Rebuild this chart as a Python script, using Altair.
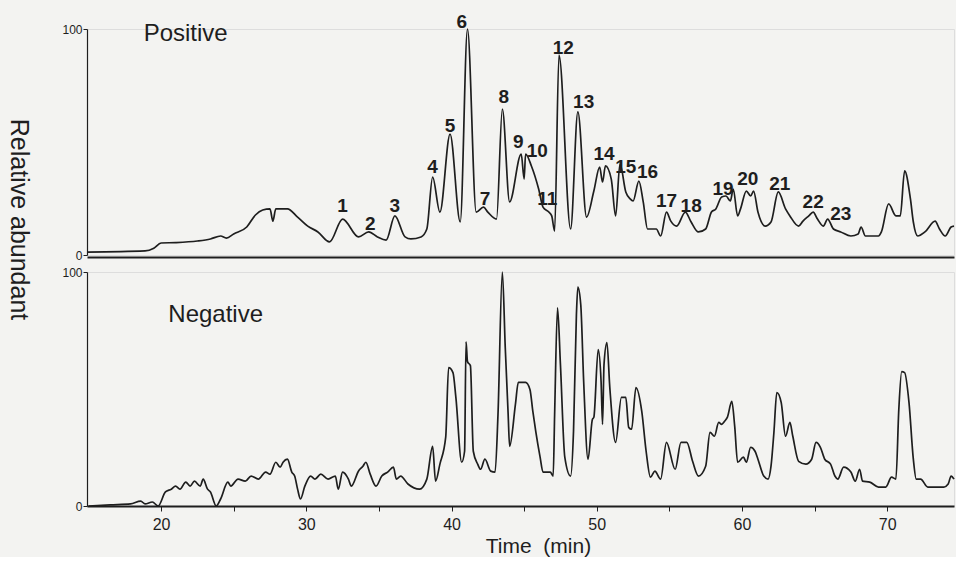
import altair as alt
import pandas as pd

# ---------------- data ----------------
pos_time = [14.9, 18.9, 19.5, 20.0, 21.0, 22.5, 23.4, 24.1, 24.5, 25.0, 25.9, 26.5, 27.0, 27.5, 27.7,
            27.9, 28.7, 29.4, 30.1, 30.8, 31.6, 32.5, 33.6, 34.3, 34.9, 35.5, 36.1, 36.8, 37.2, 37.9,
            38.3, 38.7, 39.2, 39.9, 40.6, 41.1, 41.7, 42.2, 42.5, 43.1, 43.5, 44.0, 44.8, 45.0, 45.1,
            45.5, 46.0, 46.3, 46.7, 46.9, 47.1, 47.4, 48.2, 48.7, 49.3, 49.8, 50.2, 50.4, 50.6, 51.0,
            51.3, 51.6, 52.0, 52.3, 52.5, 52.9, 53.2, 53.5, 54.1, 54.4, 54.8, 55.1, 55.5, 56.1, 56.5,
            57.0, 57.5, 57.9, 58.2, 58.6, 58.9, 59.2, 59.4, 59.7, 59.9, 60.3, 60.6, 60.8, 61.1, 61.6,
            62.0, 62.5, 63.0, 63.3, 63.9, 64.2, 64.6, 64.9, 65.2, 65.6, 65.9, 66.3, 66.8, 67.5, 68.0,
            68.2, 68.5, 69.4, 69.6, 70.1, 70.6, 70.9, 71.2, 71.6, 71.8, 72.1, 72.6, 73.3, 73.6, 74.0,
            74.4, 74.6]
pos_abund = [1.3, 1.8, 3.0, 5.3, 5.5, 6.2, 7.1, 8.4, 7.5, 9.3, 12.4, 17.7, 19.9, 20.4, 15.0,
             20.4, 20.4, 16.8, 12.8, 10.2, 5.8, 15.9, 8.0, 10.2, 8.0, 6.6, 17.3, 8.0, 7.1, 8.0,
             11.5, 34.5, 19.0, 53.5, 14.6, 100.0, 19.0, 21.2, 19.0, 15.9, 64.6, 23.5, 44.7, 33.6, 44.7,
             39.4, 29.2, 21.2, 19.0, 17.3, 10.6, 88.5, 11.5, 63.3, 16.8, 28.3, 38.9, 32.3, 39.4, 33.6,
             17.3, 40.3, 27.9, 24.8, 23.9, 32.7, 23.5, 11.5, 11.5, 8.4, 19.0, 15.0, 12.8, 19.0, 14.6,
             10.2, 11.5, 19.0, 20.4, 25.7, 26.1, 23.9, 29.2, 17.3, 20.4, 28.3, 26.1, 28.3, 19.0, 12.8,
             14.6, 27.9, 20.4, 17.3, 12.8, 15.0, 17.3, 19.0, 15.9, 12.8, 15.9, 11.5, 10.2, 8.4, 9.3,
             12.4, 8.4, 8.4, 10.2, 22.6, 17.3, 17.3, 37.2, 24.8, 14.6, 8.4, 10.2, 15.0, 11.5, 8.4,
             12.4, 12.8]

neg_time = [15.0, 16.5, 17.9, 18.6, 18.9, 19.4, 19.8, 20.3, 20.7, 21.0, 21.3, 21.7, 22.0, 22.3, 22.7,
            22.9, 23.2, 23.4, 23.8, 24.1, 24.6, 24.8, 25.3, 25.8, 26.2, 26.7, 27.2, 27.5, 27.9, 28.2,
            28.4, 28.7, 29.0, 29.2, 29.4, 29.6, 29.9, 30.3, 30.6, 31.0, 31.5, 32.0, 32.2, 32.5, 32.9,
            33.1, 33.6, 33.9, 34.1, 34.4, 34.8, 35.2, 35.6, 36.0, 36.2, 36.5, 37.0, 37.8, 38.3, 38.7,
            38.9, 39.2, 39.6, 39.8, 40.1, 40.3, 40.7, 40.9, 41.0, 41.1, 41.3, 41.5, 41.8, 42.0, 42.3,
            42.7, 43.0, 43.2, 43.5, 43.7, 43.9, 44.0, 44.4, 44.6, 45.1, 45.4, 45.6, 45.8, 46.1, 46.3,
            46.8, 47.0, 47.1, 47.3, 47.5, 47.8, 48.2, 48.4, 48.6, 48.7, 48.9, 49.1, 49.4, 49.7, 49.8,
            50.1, 50.3, 50.4, 50.5, 50.7, 50.9, 51.3, 51.7, 52.0, 52.2, 52.4, 52.7, 53.1, 53.4, 53.7,
            54.0, 54.4, 54.8, 55.4, 55.8, 56.2, 56.6, 57.0, 57.5, 57.8, 58.1, 58.4, 58.6, 58.8, 59.0,
            59.3, 59.5, 59.7, 60.1, 60.3, 60.6, 60.9, 61.1, 61.5, 61.8, 62.0, 62.2, 62.4, 62.7, 63.0,
            63.3, 63.5, 63.9, 64.4, 64.8, 65.1, 65.4, 65.7, 66.1, 66.4, 66.6, 67.0, 67.5, 67.8, 68.1,
            68.3, 68.8, 69.4, 69.9, 70.3, 70.6, 70.8, 71.0, 71.2, 71.5, 71.8, 72.0, 72.3, 72.8, 73.4,
            73.9, 74.2, 74.4, 74.6]
neg_abund = [0.0, 0.5, 0.9, 2.1, 0.9, 1.7, 0.0, 6.0, 7.2, 8.5, 7.2, 10.2, 8.5, 10.6, 8.5,
             11.5, 7.2, 6.0, 0.0, 3.0, 10.2, 8.5, 11.5, 10.6, 12.8, 11.5, 14.5, 13.6, 18.7, 16.6,
             18.7, 20.0, 14.5, 12.8, 7.2, 3.0, 8.5, 12.8, 11.5, 13.6, 11.5, 12.8, 7.2, 14.5, 11.5,
             8.5, 15.0, 17.0, 18.7, 13.6, 8.5, 12.8, 14.5, 16.6, 11.5, 12.8, 9.4, 7.2, 11.5, 25.5,
             10.6, 17.9, 29.4, 59.1, 57.0, 46.4, 18.7, 23.4, 70.2, 61.7, 60.0, 23.4, 17.9, 15.7, 20.0,
             14.9, 14.5, 39.1, 100.0, 67.7, 39.1, 25.5, 43.4, 52.8, 52.8, 49.8, 40.4, 31.9, 20.9, 14.5,
             14.5, 12.8, 39.1, 84.7, 60.4, 20.9, 12.8, 31.9, 81.7, 93.6, 86.0, 53.2, 20.0, 37.0, 37.9,
             66.8, 53.0, 34.9, 60.4, 69.8, 50.6, 27.2, 46.4, 46.4, 33.6, 32.8, 50.6, 40.4, 23.4, 12.3,
             14.9, 11.5, 27.2, 15.7, 27.2, 27.2, 19.1, 12.8, 17.0, 31.5, 29.8, 35.7, 34.9, 36.2, 38.0,
             44.7, 34.0, 18.7, 20.9, 18.7, 25.1, 23.4, 20.0, 12.8, 11.5, 17.0, 31.5, 48.5, 44.3, 29.8,
             35.7, 29.8, 19.1, 17.9, 20.0, 27.2, 25.1, 20.0, 17.9, 12.8, 11.5, 16.6, 14.5, 10.6, 15.7,
             10.6, 10.2, 8.1, 8.1, 12.3, 11.5, 41.3, 57.4, 57.0, 44.3, 20.0, 11.5, 11.5, 8.1, 8.1,
             8.1, 9.4, 12.8, 11.5]

peak_ids = [str(i) for i in range(1, 24)]
peak_time = [32.5, 34.4, 36.1, 38.7, 39.9, 40.7, 42.3, 43.6, 44.6, 45.9, 46.6, 47.7,
             49.1, 50.5, 52.0, 53.5, 54.8, 56.5, 58.7, 60.4, 62.6, 64.9, 66.8]
peak_height = [21.7, 13.7, 21.7, 38.9, 57.0, 103.3, 24.8, 70.0, 50.0, 46.0, 24.8, 91.6,
               67.7, 44.7, 38.9, 36.7, 23.9, 21.7, 29.2, 33.6, 31.4, 23.5, 18.1]

panel_names = ["Positive", "Negative"]
panel_name_time = [18.8, 20.5]
panel_name_height = [94.8, 78.7]

x_ticks = [20, 25, 30, 35, 40, 45, 50, 55, 60, 65, 70]
y_ticks = [0, 100]
X_DOMAIN = [14.9, 74.6]

FONT = "Liberation Sans"
INK = "#1e1e1e"

pos_df = pd.DataFrame({"t": pos_time, "v": pos_abund})
neg_df = pd.DataFrame({"t": neg_time, "v": neg_abund})
peak_df = pd.DataFrame({"t": peak_time, "v": peak_height, "label": peak_ids})
pos_name_df = pd.DataFrame({"t": [panel_name_time[0]], "v": [panel_name_height[0]], "label": [panel_names[0]]})
neg_name_df = pd.DataFrame({"t": [panel_name_time[1]], "v": [panel_name_height[1]], "label": [panel_names[1]]})

xscale = alt.Scale(domain=X_DOMAIN, nice=False, zero=False)
yscale = alt.Scale(domain=[0, 100], nice=False)

# ---------------- top panel ----------------
x_top = alt.X("t:Q", scale=xscale,
              axis=alt.Axis(labels=False, ticks=False, title=None, grid=False, offset=2,
                            domainColor=INK, domainWidth=1.8))
y_top = alt.Y("v:Q", scale=yscale,
              axis=alt.Axis(values=y_ticks, grid=False, title="Relative abundant",
                            titleAngle=90, titleX=-69, titleY=190, titleAlign="center",
                            titleBaseline="middle", titleFontSize=25, titleFontWeight="normal",
                            titleFont=FONT, titleColor=INK, labelFont=FONT, labelFontSize=12,
                            labelColor=INK, labelPadding=1, tickSize=4, tickColor=INK,
                            domainColor=INK, domainWidth=1.2))

top_line = alt.Chart(pos_df).mark_line(color=INK, strokeWidth=1.7, strokeJoin="round",
                                       interpolate="monotone").encode(x=x_top, y=y_top)
top_peaks = alt.Chart(peak_df).mark_text(font=FONT, fontSize=19, fontWeight="bold", color=INK,
                                         baseline="middle", align="center").encode(
    x=x_top, y=y_top, text="label:N")
top_name = alt.Chart(pos_name_df).mark_text(font=FONT, fontSize=24, color=INK,
                                            baseline="alphabetic", align="left").encode(
    x=x_top, y=y_top, text="label:N")
top = alt.layer(top_line, top_peaks, top_name).properties(width=867, height=226)

# ---------------- bottom panel ----------------
x_bot = alt.X("t:Q", scale=xscale,
              axis=alt.Axis(values=x_ticks, labelExpr="datum.value % 10 === 0 ? datum.label : ''",
                            grid=False, tickSize=5, tickColor=INK, labelFont=FONT, labelFontSize=16,
                            labelColor=INK, labelPadding=5, domainColor=INK, domainWidth=1.8,
                            title="Time\u00a0\u00a0(min)", titleFont=FONT, titleFontSize=21,
                            titleFontWeight="normal", titleColor=INK, titleX=451, titleY=40,
                            titleAlign="center", titleBaseline="middle"))
y_bot = alt.Y("v:Q", scale=yscale,
              axis=alt.Axis(values=y_ticks, grid=False, title=None, labelFont=FONT, labelFontSize=12,
                            labelColor=INK, labelPadding=1, tickSize=4, tickColor=INK,
                            domainColor=INK, domainWidth=1.2))

bot_line = alt.Chart(neg_df).mark_line(color=INK, strokeWidth=1.7, strokeJoin="round",
                                       interpolate="monotone").encode(x=x_bot, y=y_bot)
bot_name = alt.Chart(neg_name_df).mark_text(font=FONT, fontSize=24, color=INK,
                                            baseline="alphabetic", align="left").encode(
    x=x_bot, y=y_bot, text="label:N")
bottom = alt.layer(bot_line, bot_name).properties(width=867, height=234)

chart = alt.vconcat(top, bottom, spacing=17, bounds="flush").properties(
    padding={"left": 4, "top": 12, "right": 0, "bottom": 0},
    background="#f3f3f1",
).configure_view(stroke=None).configure(font=FONT)

chart.save("out.html", embed_options={"renderer": "svg", "actions": False})
